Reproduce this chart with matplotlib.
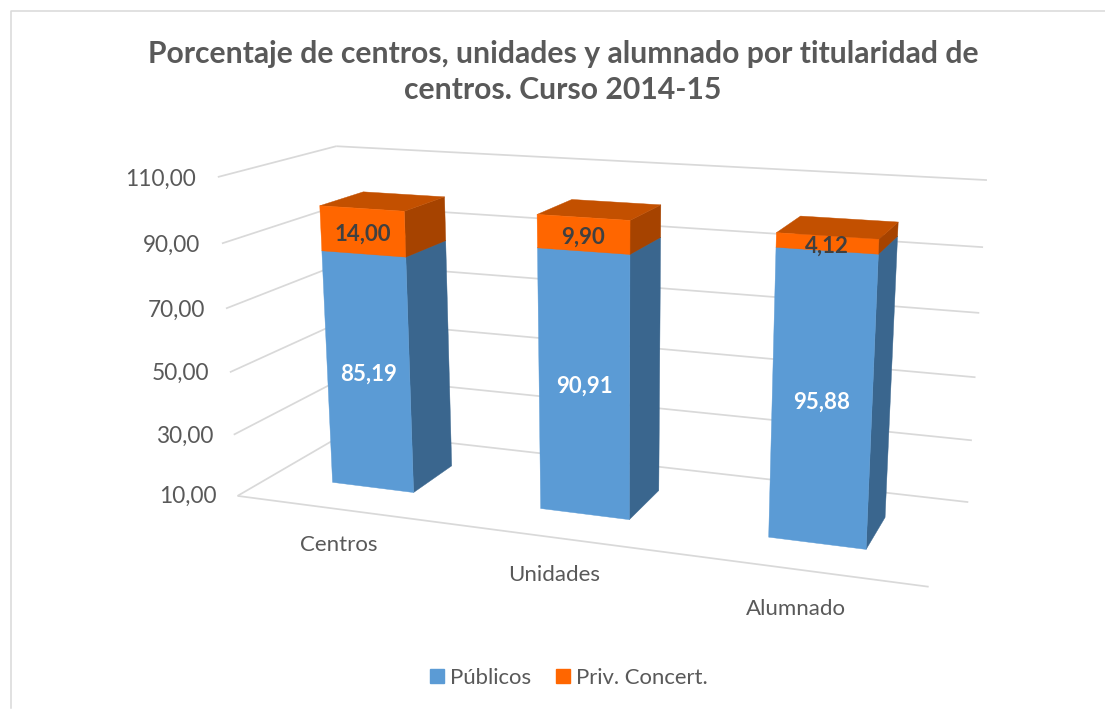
"""Stacked 3D bars: share of schools, classes and pupils by ownership, 2014-15."""
import matplotlib
matplotlib.use("Agg")
import matplotlib.pyplot as plt
import numpy as np
from matplotlib.lines import Line2D
from matplotlib.patches import Patch
from mpl_toolkits.mplot3d import proj3d
from mpl_toolkits.mplot3d.art3d import Line3DCollection, Poly3DCollection

categories = ["Centros", "Unidades", "Alumnado"]
publicos = [85.19, 90.91, 95.88]
concertados = [14.00, 9.90, 4.12]
publicos_labels = ["85,19", "90,91", "95,88"]
concertados_labels = ["14,00", "9,90", "4,12"]
value_ticks = [10, 30, 50, 70, 90, 110]
value_tick_labels = ["10,00", "30,00", "50,00", "70,00", "90,00", "110,00"]
title = "Porcentaje de centros, unidades y alumnado por titularidad de\ncentros. Curso 2014-15"

W, H = 1105, 709
plt.rcParams["font.family"] = ["Lato", "DejaVu Sans"]

# camera fitted to where the box corners sit in the picture (world -> pixel)
world = np.array([(0, 0, 10), (0, 1, 10), (3, 1, 10), (3, 0, 10), (0, 0, 110),
                  (0, 1, 110), (3, 1, 110), (3, 1, 90), (0, 0, 90)], float)
pixel = np.array([(237, 496), (349, 431), (968, 503), (929, 586), (218, 177),
                  (336, 146), (987, 180), (983, 247), (222, 244)], float)
rows, rhs = [], []
for (x, y, z), (u, v) in zip(world, pixel):
    rows.append([x, y, z, 1, 0, 0, 0, 0, -u * x, -u * y, -u * z])
    rows.append([0, 0, 0, 0, x, y, z, 1, -v * x, -v * y, -v * z])
    rhs += [u, v]
P = np.append(np.linalg.lstsq(np.array(rows), np.array(rhs), rcond=None)[0], 1).reshape(3, 4)

fig = plt.figure(figsize=(W / 100, H / 100), dpi=100)
ax = fig.add_axes([0, -(W - H) / 2 / H, 1, W / H], projection="3d", computed_zorder=False)
ax.set_xticks([])
ax.set_yticks([])
ax.set_zticks([])
ax.set_axis_off()
(x0, x1), (y0, y1) = ax.viewLim.intervalx, ax.viewLim.intervaly
bottom = H + (W - H) / 2
M = np.array([x0 * P[2] + (x1 - x0) / W * P[0],
              (y0 + bottom / W * (y1 - y0)) * P[2] - (y1 - y0) / W * P[1],
              [0, 1, 0, 0],
              P[2]])
ax.get_proj = lambda: M


def label(x, y, z, s, **kw):
    px, py, _ = proj3d.proj_transform(x, y, z, M)
    ax.text2D(px, py, s, transform=ax.transData, va="center", **kw)


GRID = "#D9D9D9"
segments = [[(0, 0, 10), (3, 0, 10)]]
for v in value_ticks:
    segments += [[(0, 0, v), (0, 1, v)], [(0, 1, v), (3, 1, v)]]
ax.add_collection3d(Line3DCollection(segments, colors=GRID, linewidths=1.25, zorder=1))

# bar footprint
BAR_X = 0.30
BAR_W = 0.40
BAR_Y = 0.30
BAR_D = 0.39
CAT_X = [0.70, 1.63, 2.58]


def add_block(i, z0, z1, front, side, top):
    a, b = i + BAR_X, i + BAR_X + BAR_W
    c, d = BAR_Y, BAR_Y + BAR_D
    faces = [[(a, c, z0), (b, c, z0), (b, c, z1), (a, c, z1)],
             [(b, c, z0), (b, d, z0), (b, d, z1), (b, c, z1)],
             [(a, c, z1), (b, c, z1), (b, d, z1), (a, d, z1)]]
    ax.add_collection3d(Poly3DCollection(faces, facecolors=[front, side, top],
                                         edgecolors=[front, side, top], linewidths=0.3, zorder=3))


for i in range(len(categories)):
    add_block(i, 10, publicos[i], "#5B9BD5", "#3A668E", "#3A668E")
    total = publicos[i] + concertados[i]
    add_block(i, publicos[i], total, "#FF6600", "#A64300", "#C35000")
    xc = i + BAR_X + BAR_W / 2
    label(xc, BAR_Y, (10 + publicos[i]) / 2 - 0.4, publicos_labels[i], color="white", fontsize=16,
          fontweight="bold", ha="center", zorder=5)
    label(xc, BAR_Y, publicos[i] + concertados[i] / 2 - 0.8, concertados_labels[i], color="#404040",
          fontsize=16, fontweight="bold", ha="center", zorder=5)
    label(CAT_X[i], -0.37, 10, categories[i], color="#595959", fontsize=16, ha="center")

for v, lab in zip(value_ticks, value_tick_labels):
    label(-0.105, 0, v - 1.2, lab, color="#595959", fontsize=16.3, ha="right")

fig.text(563 / W, 1 - 72 / H, title, color="#595959", fontsize=21.7, fontweight="bold",
         ha="center", va="center", linespacing=1.37)
fig.legend(handles=[Patch(color="#5B9BD5"), Patch(color="#FF6600")],
           labels=["Públicos", "Priv. Concert."], loc="center", bbox_to_anchor=(569 / W, 1 - 678 / H),
           ncol=2, frameon=False, fontsize=15.9, labelcolor="#595959", handlelength=0.63,
           handleheight=0.63, handletextpad=0.28, columnspacing=1.1)
fig.add_artist(Line2D([10.5 / W, 10.5 / W, 1], [1 - 708 / H, 1 - 10.5 / H, 1 - 10.5 / H],
                      color=GRID, lw=1.1))
fig.savefig("out.png", dpi=100)
